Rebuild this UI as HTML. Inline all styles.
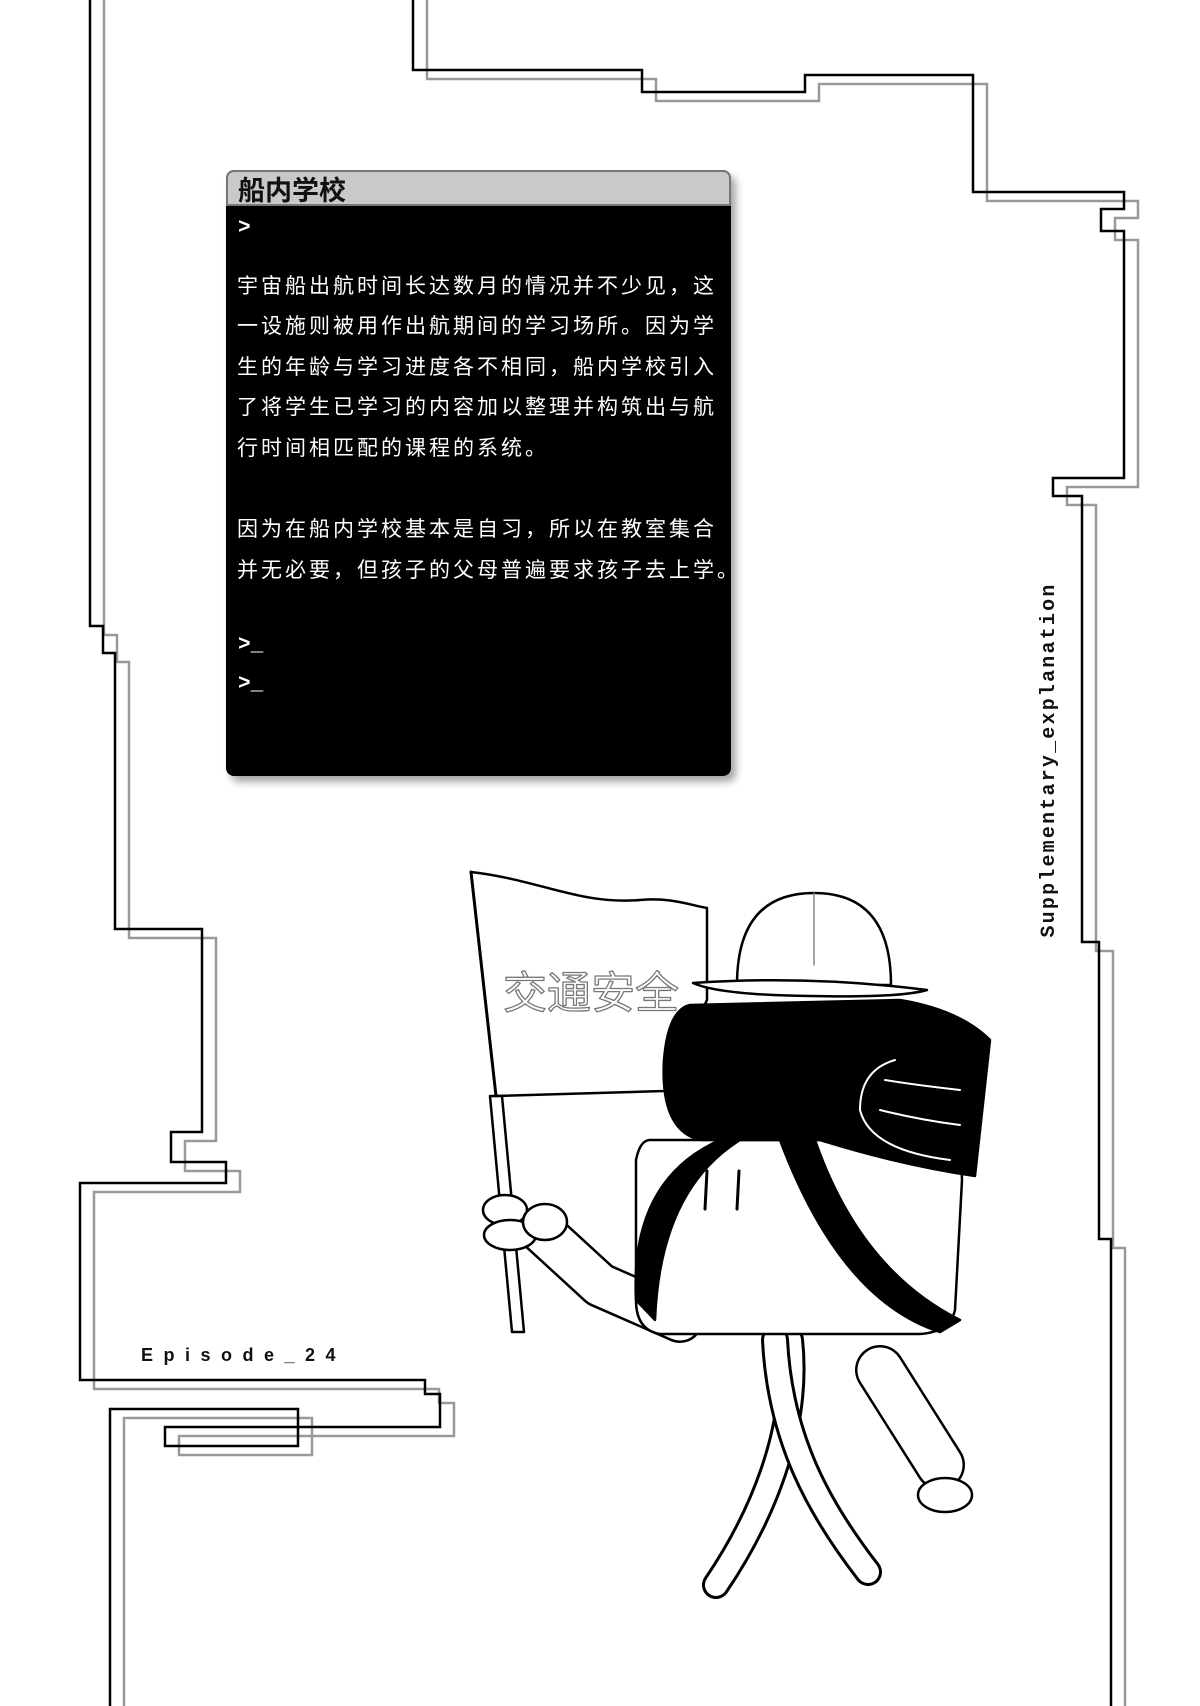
<!DOCTYPE html>
<html><head><meta charset="utf-8"><style>
html,body{margin:0;padding:0;background:#fff;}
body{width:1200px;height:1706px;position:relative;overflow:hidden;font-family:"Liberation Sans","Noto Sans CJK SC",sans-serif;}
svg{position:absolute;left:0;top:0;}
.box{position:absolute;left:226px;top:170px;width:505px;height:606px;background:#000;border-radius:8px;box-shadow:5px 6px 8px rgba(0,0,0,0.35);overflow:hidden;}
.bar{position:absolute;left:0;top:0;width:100%;height:36px;background:#c9c9c9;box-sizing:border-box;border:2px solid #777;border-radius:8px 8px 0 0;}
.bar span{position:absolute;left:10px;top:0px;font-size:27px;font-weight:bold;color:#111;line-height:34px;font-family:"Noto Sans CJK SC",sans-serif;}
.t{position:absolute;left:11px;color:#fff;font-size:21px;letter-spacing:3px;white-space:nowrap;font-family:"Noto Sans CJK SC",sans-serif;line-height:24px;}
.p{position:absolute;left:12px;color:#fff;font-size:21px;font-weight:bold;font-family:"Liberation Mono",monospace;line-height:20px;}
</style></head><body>
<svg width="1200" height="1706" viewBox="0 0 1200 1706">
<g fill="none" stroke-linejoin="miter">
<g transform="translate(14,9)" stroke="#999" stroke-width="2.5">
<path d="M90,-20 V626 H103 V653 H115 V929 H202 V1132 H171 V1162 H226 V1183 H80 V1380 H425 V1394 H440 V1427 H165 V1446 H298 V1409 H110 V1720"/>
<path d="M413,-20 V70 H642 V92 H805 V75 H973 V192 H1124 V209 H1101 V231 H1124 V478 H1053 V496 H1082 V942 H1099 V1239 H1111 V1720"/>
</g>
<g stroke="#000" stroke-width="2.5">
<path d="M90,-20 V626 H103 V653 H115 V929 H202 V1132 H171 V1162 H226 V1183 H80 V1380 H425 V1394 H440 V1427 H165 V1446 H298 V1409 H110 V1720"/>
<path d="M413,-20 V70 H642 V92 H805 V75 H973 V192 H1124 V209 H1101 V231 H1124 V478 H1053 V496 H1082 V942 H1099 V1239 H1111 V1720"/>
</g>
</g>
<g stroke="#000" stroke-width="2.5" stroke-linejoin="round" stroke-linecap="round">
<path d="M790,1340 C800,1430 760,1520 716,1585" fill="none" stroke-width="28"/>
<path d="M790,1340 C800,1430 760,1520 716,1585" fill="none" stroke="#fff" stroke-width="22"/>
<path d="M775,1340 C780,1440 820,1510 868,1572" fill="none" stroke-width="28"/>
<path d="M775,1340 C780,1440 820,1510 868,1572" fill="none" stroke="#fff" stroke-width="22"/>
<path d="M540,1230 L600,1285 L680,1320" fill="none" stroke-width="46"/>
<path d="M540,1230 L600,1285 L680,1320" fill="none" stroke="#fff" stroke-width="41"/>
<path d="M880,1370 L940,1465" fill="none" stroke-width="50"/>
<path d="M880,1370 L940,1465" fill="none" stroke="#fff" stroke-width="45"/>
<ellipse cx="945" cy="1495" rx="27" ry="17" fill="#fff"/>
<path d="M471,872 C540,880 580,905 640,900 C670,897 690,905 707,908 L707,1000 L664,1091 L496,1096 Z" fill="#fff"/>
<path d="M490,1096 L512,1332 L524,1332 L502,1096 Z" fill="#fff"/>
<path d="M471,872 L496,1096" fill="none" stroke-width="3"/>
<text x="503" y="1008" font-family="Noto Sans CJK SC,sans-serif" font-size="44" fill="#fff" stroke="#777" stroke-width="1.3">交通安全</text>
<ellipse cx="505" cy="1210" rx="22" ry="15" fill="#fff"/>
<ellipse cx="510" cy="1235" rx="26" ry="15" fill="#fff"/>
<ellipse cx="545" cy="1222" rx="22" ry="18" fill="#fff"/>
<path d="M650,1140 L940,1140 Q962,1150 962,1180 L955,1310 Q950,1332 920,1334 L660,1334 Q636,1330 636,1300 L636,1160 Q640,1140 650,1140 Z" fill="#fff"/>
<path d="M636,1300 Q630,1180 720,1140 L740,1140 Q660,1190 655,1320 Z" fill="#000"/>
<path d="M780,1140 L815,1140 Q860,1270 960,1320 L940,1332 Q840,1300 780,1140 Z" fill="#000"/>
<path d="M707,1171 L705,1209 M739,1171 L737,1209" stroke-width="3"/>
<path d="M690,1005 L900,1000 Q960,1010 990,1040 L975,1176 Q900,1165 820,1140 L700,1140 Q660,1130 664,1060 Q668,1010 690,1005 Z" fill="#000"/>
<path d="M895,1060 Q860,1070 860,1110 Q870,1150 950,1160 M885,1080 Q915,1085 960,1090 M880,1110 Q920,1120 960,1125" fill="none" stroke="#fff" stroke-width="2"/>
<path d="M737,985 Q737,893 814,893 Q891,893 891,985 Z" fill="#fff"/>
<path d="M693,983 Q810,975 927,990 Q900,998 810,996 Q720,995 693,983 Z" fill="#fff"/>
<path d="M814,893 L814,965" fill="none" stroke="#888" stroke-width="1.5"/>
</g>
</svg>
<div class="box">
<div class="bar"><span>船内学校</span></div>
<div class="p" style="top:49px;">&gt;</div>
<div class="t" style="top:103px;">宇宙船出航时间长达数月的情况并不少见，这</div>
<div class="t" style="top:143px;">一设施则被用作出航期间的学习场所。因为学</div>
<div class="t" style="top:184px;">生的年龄与学习进度各不相同，船内学校引入</div>
<div class="t" style="top:224px;">了将学生已学习的内容加以整理并构筑出与航</div>
<div class="t" style="top:265px;">行时间相匹配的课程的系统。</div>
<div class="t" style="top:346px;">因为在船内学校基本是自习，所以在教室集合</div>
<div class="t" style="top:387px;">并无必要，但孩子的父母普遍要求孩子去上学。</div>
<div class="p" style="top:466px;">&gt;_</div>
<div class="p" style="top:505px;">&gt;_</div>
</div>
<div style="position:absolute;left:141px;top:1343px;font-size:18px;font-weight:bold;letter-spacing:10.5px;font-family:'Liberation Sans',sans-serif;color:#111;line-height:24px;">Episode_24</div>
<div style="position:absolute;left:1050px;top:760px;width:0;height:0;">
<div style="position:absolute;transform:translate(-50%,-50%) rotate(-90deg);white-space:nowrap;font-family:'Liberation Mono',monospace;font-weight:bold;font-size:20px;letter-spacing:2.2px;color:#111;line-height:22px;">Supplementary_explanation</div>
</div>
</body></html>
